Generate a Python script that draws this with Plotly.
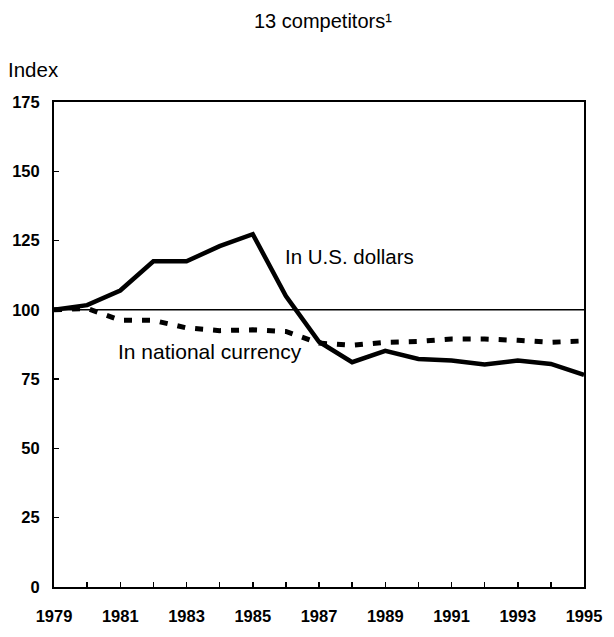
import plotly.graph_objects as go

years = list(range(1979, 1996))
us_dollars = [100, 101.7, 107, 117.5, 117.5, 123, 127.3, 105, 88.5, 81.1, 85.2, 82.3, 81.7, 80.3, 81.7, 80.5, 76.5]
national_currency = [100, 100.5, 96.3, 96.2, 93.5, 92.5, 92.8, 92.2, 88.0, 87.2, 88.3, 88.6, 89.5, 89.5, 89.0, 88.3, 88.8]
y_ticks = [0, 25, 50, 75, 100, 125, 150, 175]
x_ticks = list(range(1979, 1996, 2))

W, H = 614, 637
L, R, T, B = 53, 20, 102, 41
PW, PH = W - L - R, H - T - B


def px_x(x):
    return (x - L) / PW


def px_y(y):
    return (H - B - y) / PH


fig = go.Figure()
fig.add_trace(go.Scatter(x=[1979, 1995], y=[100, 100], mode="lines",
                         line=dict(color="black", width=1.5), hoverinfo="skip", showlegend=False))
fig.add_trace(go.Scatter(x=years, y=national_currency, mode="lines",
                         line=dict(color="black", width=5, dash="8px,10px"), showlegend=False, cliponaxis=False))
fig.add_trace(go.Scatter(x=years, y=us_dollars, mode="lines",
                         line=dict(color="black", width=4.5), showlegend=False, cliponaxis=False))

tickfont = dict(size=16.5, weight="bold", family="Liberation Sans, Arial, sans-serif")
fig.update_layout(
    width=W, height=H,
    margin=dict(l=L, r=R, t=T, b=B),
    paper_bgcolor="white", plot_bgcolor="white",
    font=dict(family="Liberation Sans, Arial, sans-serif", color="black"),
    xaxis=dict(range=[1979, 1995], tickmode="array", tickvals=x_ticks, ticktext=[str(v) for v in x_ticks],
               ticks="inside", ticklen=5, tickwidth=1.5, tickcolor="black", ticklabelstandoff=13,
               minor=dict(tickmode="array", tickvals=years, ticks="inside", ticklen=5, tickwidth=1.5, tickcolor="black"),
               showgrid=False, zeroline=False, showline=True, linecolor="black", linewidth=2, mirror=True,
               tickfont=tickfont, fixedrange=True),
    yaxis=dict(range=[0, 175], tickmode="array", tickvals=y_ticks,
               ticks="inside", ticklen=5, tickwidth=1.5, tickcolor="black", ticklabelstandoff=9,
               showgrid=False, zeroline=False, showline=True, linecolor="black", linewidth=2, mirror=True,
               tickfont=tickfont, fixedrange=True),
    annotations=[
        dict(text="13 competitors\u00b9", x=px_x(327.5), y=px_y(20), xref="paper", yref="paper",
             showarrow=False, font=dict(size=20), xanchor="center", yanchor="middle"),
        dict(text="Index", x=px_x(4), y=px_y(69), xref="paper", yref="paper",
             showarrow=False, font=dict(size=20.5), xanchor="left", yanchor="middle"),
        dict(text="In U.S. dollars", x=px_x(287), y=px_y(259), xref="paper", yref="paper",
             showarrow=False, font=dict(size=20.5), xanchor="left", yanchor="middle"),
        dict(text="In national currency", x=px_x(116), y=px_y(356), xref="paper", yref="paper",
             showarrow=False, font=dict(size=21), xanchor="left", yanchor="middle"),
    ],
)

fig.write_html("out.html",
               config={"displayModeBar": False, "staticPlot": True},
               post_script="document.body.style.margin='0';document.body.style.overflow='hidden';")
